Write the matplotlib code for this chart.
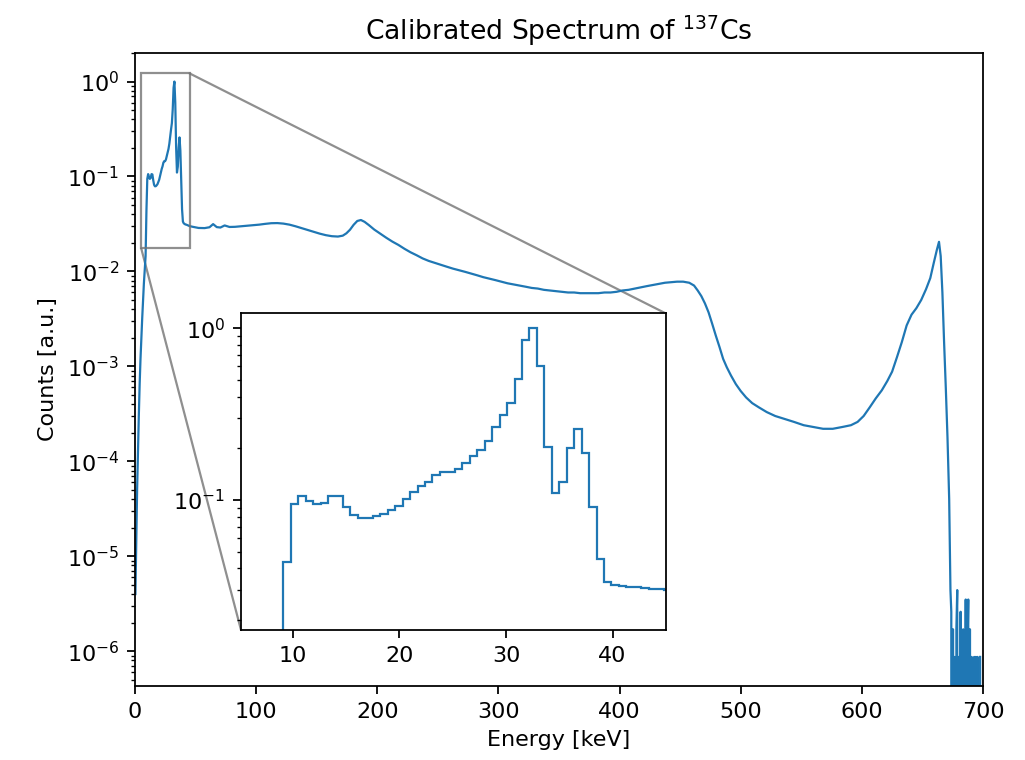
import numpy as np
import matplotlib.pyplot as plt
from matplotlib.patches import ConnectionPatch

# fine binning (0.7 keV) for the low energy x-ray region
bin_width = 0.7
low_counts = [4e-6, 1.5e-5, 5e-5, 1.3e-4, 3e-4, 6.5e-4, 1.2e-3, 2e-3, 3.2e-3, 5e-3,
              7.5e-3, 1.05e-2, 1.45e-2,
              0.0437, 0.0944, 0.106, 0.0991, 0.0944, 0.0965, 0.106, 0.105, 0.0915, 0.0818,
              0.0789, 0.0789, 0.0807, 0.0829, 0.0875, 0.0922, 0.101, 0.112, 0.120, 0.128,
              0.140, 0.145, 0.145, 0.151, 0.165, 0.181, 0.195, 0.221, 0.265, 0.312,
              0.365, 0.509, 0.859, 1.0, 0.601, 0.204, 0.110, 0.127, 0.202, 0.258,
              0.188, 0.0915, 0.0451, 0.0335, 0.0321, 0.0316, 0.0312, 0.0311, 0.0308,
              0.0305, 0.0302, 0.030]

# (upper bin edge [keV], counts) for the rest of the spectrum
mid_bins = [
    (50, 0.0295), (55, 0.0287), (60, 0.0286), (63, 0.0292), (66, 0.0315), (69, 0.0293),
    (72, 0.0290), (76, 0.0305), (80, 0.0294), (85, 0.0295), (90, 0.0299), (95, 0.0303),
    (100, 0.0307), (105, 0.0311), (110, 0.0317), (115, 0.0322), (120, 0.0323),
    (125, 0.0319), (130, 0.0311), (135, 0.0299), (140, 0.0286), (145, 0.0273),
    (150, 0.0261), (155, 0.0250), (160, 0.0241), (165, 0.0235), (170, 0.0233),
    (173, 0.0238), (176, 0.0252), (179, 0.0275), (182, 0.0310), (185, 0.0340),
    (188, 0.0348), (191, 0.0333), (195, 0.0308), (200, 0.0276), (205, 0.0250),
    (210, 0.0226), (215, 0.0206), (220, 0.0190), (225, 0.0173), (230, 0.0159),
    (235, 0.0148), (240, 0.0137), (245, 0.0129), (250, 0.0123), (255, 0.0117),
    (260, 0.0112), (265, 0.0107), (270, 0.0103), (275, 0.0099), (280, 0.0095),
    (285, 0.0091), (290, 0.0087), (295, 0.0084), (300, 0.0081), (305, 0.0078),
    (310, 0.0075), (315, 0.0073), (320, 0.0071), (325, 0.0069), (330, 0.0067),
    (335, 0.0066), (340, 0.0064), (345, 0.0063), (350, 0.0062), (355, 0.0061),
    (360, 0.0060), (365, 0.0060), (370, 0.0059), (375, 0.0059), (380, 0.0059),
    (385, 0.0059), (390, 0.0060), (395, 0.0060), (400, 0.0061), (405, 0.0063),
    (410, 0.0064), (415, 0.0066), (420, 0.0068), (425, 0.0070), (430, 0.0072),
    (435, 0.0074), (440, 0.0076), (445, 0.0077), (450, 0.0078), (455, 0.0078),
    (460, 0.0076), (463, 0.0071), (466, 0.0063), (469, 0.0055), (472, 0.0046),
    (475, 0.0037), (478, 0.0028), (481, 0.0021), (484, 0.0016), (487, 0.0012),
    (490, 0.00098), (494, 0.00080), (498, 0.00065), (502, 0.00055), (507, 0.00047),
    (512, 0.00041), (518, 0.00037), (525, 0.00033), (532, 0.00030), (540, 0.00028),
    (548, 0.00026), (556, 0.00024), (564, 0.00023), (572, 0.00022), (580, 0.00022),
    (588, 0.00023), (594, 0.00024), (599, 0.00026), (604, 0.00030), (609, 0.00037),
    (614, 0.00046), (619, 0.00056), (623, 0.00070), (627, 0.00088), (631, 0.00125),
    (635, 0.0018), (639, 0.0027), (643, 0.0035), (647, 0.0041), (651, 0.0050),
    (655, 0.0065), (658, 0.0085), (661, 0.0125), (663, 0.017), (664.4, 0.0205),
    (665.8, 0.0145), (667.2, 0.0060), (668.6, 0.0018), (670, 0.0006), (671.4, 0.00018),
    (672.8, 4.0e-5),
]

# sparse single-count tail above the photopeak (0.7 keV bins from 672.8 keV)
tail_counts = [4.4e-6, 2.6e-6, 0, 1.7e-6, 0, 8.7e-7, 0, 1.7e-6, 4.4e-6, 0, 8.7e-7, 0,
               2.6e-6, 0, 8.7e-7, 1.7e-6, 0, 0, 3.5e-6, 0, 8.7e-7, 3.5e-6, 0, 1.7e-6,
               0, 8.7e-7, 0, 0, 8.7e-7, 0, 8.7e-7, 0, 8.7e-7, 0, 0, 8.7e-7]

low_edges = np.arange(len(low_counts) + 1) * bin_width
mid_edges = [e for e, _ in mid_bins]
tail_edges = mid_edges[-1] + np.arange(1, len(tail_counts) + 1) * bin_width
edges = np.concatenate([low_edges, mid_edges, tail_edges])
counts = np.concatenate([low_counts, [c for _, c in mid_bins], tail_counts])
centers = 0.5 * (edges[1:] + edges[:-1])

zoom_x = (5.13, 45.0)
zoom_y = (0.0175, 1.22)

fig = plt.figure(figsize=(1025 / 160, 760 / 160), dpi=160)
ax = fig.add_axes([0.1317, 0.0974, 0.8273, 0.8329])
ax.plot(centers, counts, color='C0', lw=1.0)
ax.set_yscale('log')
ax.set_xlim(0, 700)
ax.set_ylim(4.3e-7, 2.0)
ax.set_title('Calibrated Spectrum of $^{137}$Cs')
ax.set_xlabel('Energy [keV]')
ax.set_ylabel('Counts [a.u.]')

axins = ax.inset_axes([0.125, 0.0885, 0.501, 0.5])
axins.stairs(counts, edges, color='C0')
axins.set_yscale('log')
axins.set_xlim(*zoom_x)
axins.set_ylim(*zoom_y)

# zoom box and the two connector lines
ax.indicate_inset([zoom_x[0], zoom_y[0], zoom_x[1] - zoom_x[0], zoom_y[1] - zoom_y[0]],
                  edgecolor='0.45', alpha=0.8, lw=1.0)
for corner in [(0, 0), (1, 1)]:
    xy = (zoom_x[corner[0]], zoom_y[corner[1]])
    con = ConnectionPatch(xyA=xy, coordsA=ax.transData, xyB=corner, coordsB=axins.transAxes,
                          color='0.45', alpha=0.8, lw=1.0)
    ax.add_artist(con)

fig.savefig('out.png', dpi=160)
